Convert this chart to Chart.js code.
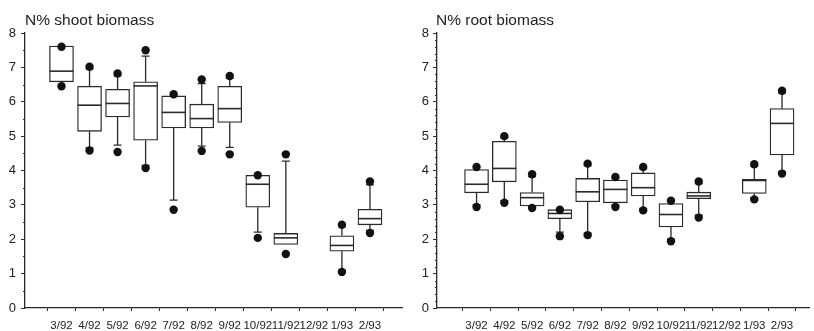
<!DOCTYPE html>
<html>
<head>
<meta charset="utf-8">
<script src="https://cdn.jsdelivr.net/npm/chart.js@4"></script>
<style>
  html, body { margin: 0; padding: 0; background: #fff; }
  #wrap { position: relative; width: 814px; height: 331px; overflow: hidden; }
  canvas { position: absolute; top: 0; }
  .title {
    position: absolute; top: 11px; line-height: 1;
    font: 15.5px "Liberation Sans", Arial, sans-serif; color: #222; white-space: nowrap;
  }
</style>
</head>
<body>
<div id="wrap">
  <canvas id="shoot" width="407" height="331" style="left:0"></canvas>
  <canvas id="root" width="407" height="331" style="left:407px"></canvas>
  <div class="title" style="left:25px">N% shoot biomass</div>
  <div class="title" style="left:436px">N% root biomass</div>
</div>
<script>
const CATEGORIES = ["3/92", "4/92", "5/92", "6/92", "7/92", "8/92", "9/92", "10/92", "11/92", "12/92", "1/93", "2/93"];
const Y_TICKS = [0, 1, 2, 3, 4, 5, 6, 7, 8];

// shoot N% per month (no sample in 12/92)
const SHOOT_LOW        = [6.45, 4.58, 4.54, 4.07, 2.86, 4.57, 4.47, 2.04, 1.57, null, 1.05, 2.18];
const SHOOT_WHISKER_LO = [6.58, 4.66, 4.74, 4.15, 3.14, 4.71, 4.67, 2.21, 1.85, null, 1.10, 2.26];
const SHOOT_Q1         = [6.58, 5.14, 5.56, 4.88, 5.24, 5.24, 5.40, 2.93, 1.85, null, 1.65, 2.42];
const SHOOT_MEDIAN     = [6.89, 5.90, 5.95, 6.46, 5.69, 5.51, 5.80, 3.60, 2.04, null, 1.82, 2.60];
const SHOOT_Q3         = [7.62, 6.45, 6.36, 6.58, 6.17, 5.93, 6.45, 3.86, 2.17, null, 2.10, 2.87];
const SHOOT_WHISKER_HI = [7.62, 6.95, 6.75, 7.33, 6.17, 6.53, 6.68, 3.86, 4.27, null, 2.36, 3.58];
const SHOOT_HIGH       = [7.60, 7.02, 6.82, 7.50, 6.22, 6.65, 6.75, 3.86, 4.47, null, 2.42, 3.68];

// root N% per month
const ROOT_LOW        = [2.94, 3.06, 2.91, 2.09, 2.12, 2.94, 2.84, 1.94, 2.63, null, 3.16, 3.91];
const ROOT_WHISKER_LO = [3.00, 3.12, 2.95, 2.21, 2.18, 3.00, 2.90, 2.00, 2.70, null, 3.20, 3.97];
const ROOT_Q1         = [3.35, 3.67, 2.97, 2.60, 3.09, 3.06, 3.26, 2.36, 3.18, null, 3.33, 4.45];
const ROOT_MEDIAN     = [3.60, 4.06, 3.21, 2.75, 3.38, 3.45, 3.50, 2.72, 3.26, null, 3.71, 5.37];
const ROOT_Q3         = [4.03, 4.85, 3.36, 2.86, 3.77, 3.72, 3.93, 3.04, 3.37, null, 3.74, 5.80];
const ROOT_WHISKER_HI = [4.05, 4.95, 3.82, 2.86, 4.14, 3.78, 4.05, 3.10, 3.62, null, 4.12, 6.25];
const ROOT_HIGH       = [4.10, 5.00, 3.89, 2.86, 4.20, 3.81, 4.10, 3.12, 3.68, null, 4.18, 6.32];

const INK = "#2a2a2a";
const BOX_W = 24;
const FONT = "'Liberation Sans', Arial, sans-serif";

const pts = arr => arr.map((v, i) => ({ x: i + 1, y: v })).filter(p => p.y != null);

// whiskers + caps under the boxes, medians over them, minor ticks on the y axis
const boxPlot = {
  id: "boxPlot",
  beforeDatasetsDraw(chart, args, o) {
    const { ctx, scales: { x, y } } = chart;
    ctx.save();
    ctx.strokeStyle = INK;
    ctx.lineWidth = 1.3;
    o.q1.forEach((q1, i) => {
      if (q1 == null) return;
      const px = x.getPixelForValue(i + 1);
      [[q1, o.lo[i]], [o.q3[i], o.hi[i]]].forEach(([from, to]) => {
        if (Math.abs(to - from) < 0.02) return;
        const a = y.getPixelForValue(from), b = y.getPixelForValue(to);
        ctx.beginPath();
        ctx.moveTo(px, a); ctx.lineTo(px, b);
        ctx.moveTo(px - 4, b); ctx.lineTo(px + 4, b);
        ctx.stroke();
      });
    });
    // minor ticks
    ctx.lineWidth = 1;
    for (let v = 0; v <= 8.001; v += o.minor) {
      if (Math.abs(v - Math.round(v)) < 0.01) continue;
      const py = Math.round(y.getPixelForValue(v)) + 0.5;
      ctx.beginPath();
      ctx.moveTo(chart.chartArea.left - 2, py); ctx.lineTo(chart.chartArea.left, py);
      ctx.stroke();
    }
    ctx.restore();
  },
  afterDatasetDraw(chart, args, o) {
    if (chart.data.datasets[args.index].type !== "bar") return;
    const { ctx, scales: { x, y } } = chart;
    ctx.save();
    ctx.strokeStyle = INK;
    ctx.lineWidth = 1.6;
    o.med.forEach((m, i) => {
      if (m == null) return;
      const px = x.getPixelForValue(i + 1), py = y.getPixelForValue(m);
      ctx.beginPath();
      ctx.moveTo(px - BOX_W / 2, py); ctx.lineTo(px + BOX_W / 2, py);
      ctx.stroke();
    });
    ctx.restore();
  }
};

function makePanel(id, s, geo) {
  const dots = { type: "line", showLine: false, pointRadius: 4.2, pointHoverRadius: 4.2,
    pointBackgroundColor: "#111", pointBorderWidth: 0, order: 0 };
  new Chart(document.getElementById(id), {
    data: {
      datasets: [
        { ...dots, data: pts(s.high) },
        { ...dots, data: pts(s.low) },
        {
          type: "bar", order: 1,
          data: s.q1.map((q, i) => ({ x: i + 1, y: q == null ? null : [q, s.q3[i]] })).filter(p => p.y),
          barThickness: BOX_W, backgroundColor: "#fff", borderColor: INK,
          borderWidth: 1.3, borderSkipped: false
        }
      ]
    },
    options: {
      responsive: false, animation: false, devicePixelRatio: 1,
      layout: { padding: { top: 33, right: 0, left: 0, bottom: 0 } },
      plugins: {
        legend: { display: false }, tooltip: { enabled: false },
        boxPlot: { q1: s.q1, q3: s.q3, lo: s.wlo, hi: s.whi, med: s.med, minor: geo.minor }
      },
      scales: {
        x: {
          type: "linear", min: geo.xmin, max: geo.xmax,
          afterBuildTicks: sc => { sc.ticks = CATEGORIES.map((_, i) => ({ value: i + 1 })); },
          afterFit: sc => { sc.height = 23; },
          ticks: {
            callback: v => CATEGORIES[Math.round(v) - 1],
            autoSkip: false, maxRotation: 0, padding: 8,
            color: "#222", font: { family: FONT, size: 11.5 }
          },
          grid: { drawOnChartArea: false, tickLength: 3, color: INK },
          border: { color: INK, width: 1.3 }
        },
        y: {
          min: 0, max: 8,
          afterBuildTicks: sc => { sc.ticks = Y_TICKS.map(v => ({ value: v })); },
          afterFit: sc => { sc.width = geo.axisW; },
          ticks: { padding: geo.labelPad, color: "#222", font: { family: FONT, size: 13 } },
          grid: { drawOnChartArea: false, tickLength: 4, color: INK },
          border: { color: INK, width: 1.3 }
        }
      }
    },
    plugins: [boxPlot]
  });
}

makePanel("shoot", {
  low: SHOOT_LOW, wlo: SHOOT_WHISKER_LO, q1: SHOOT_Q1, med: SHOOT_MEDIAN,
  q3: SHOOT_Q3, whi: SHOOT_WHISKER_HI, high: SHOOT_HIGH
}, { xmin: 0.26, xmax: 12.61, axisW: 25, labelPad: 5, minor: 0.5 });

makePanel("root", {
  low: ROOT_LOW, wlo: ROOT_WHISKER_LO, q1: ROOT_Q1, med: ROOT_MEDIAN,
  q3: ROOT_Q3, whi: ROOT_WHISKER_HI, high: ROOT_HIGH
}, { xmin: 0.135, xmax: 12.44, axisW: 30, labelPad: 4, minor: 0.2 });
</script>
</body>
</html>
